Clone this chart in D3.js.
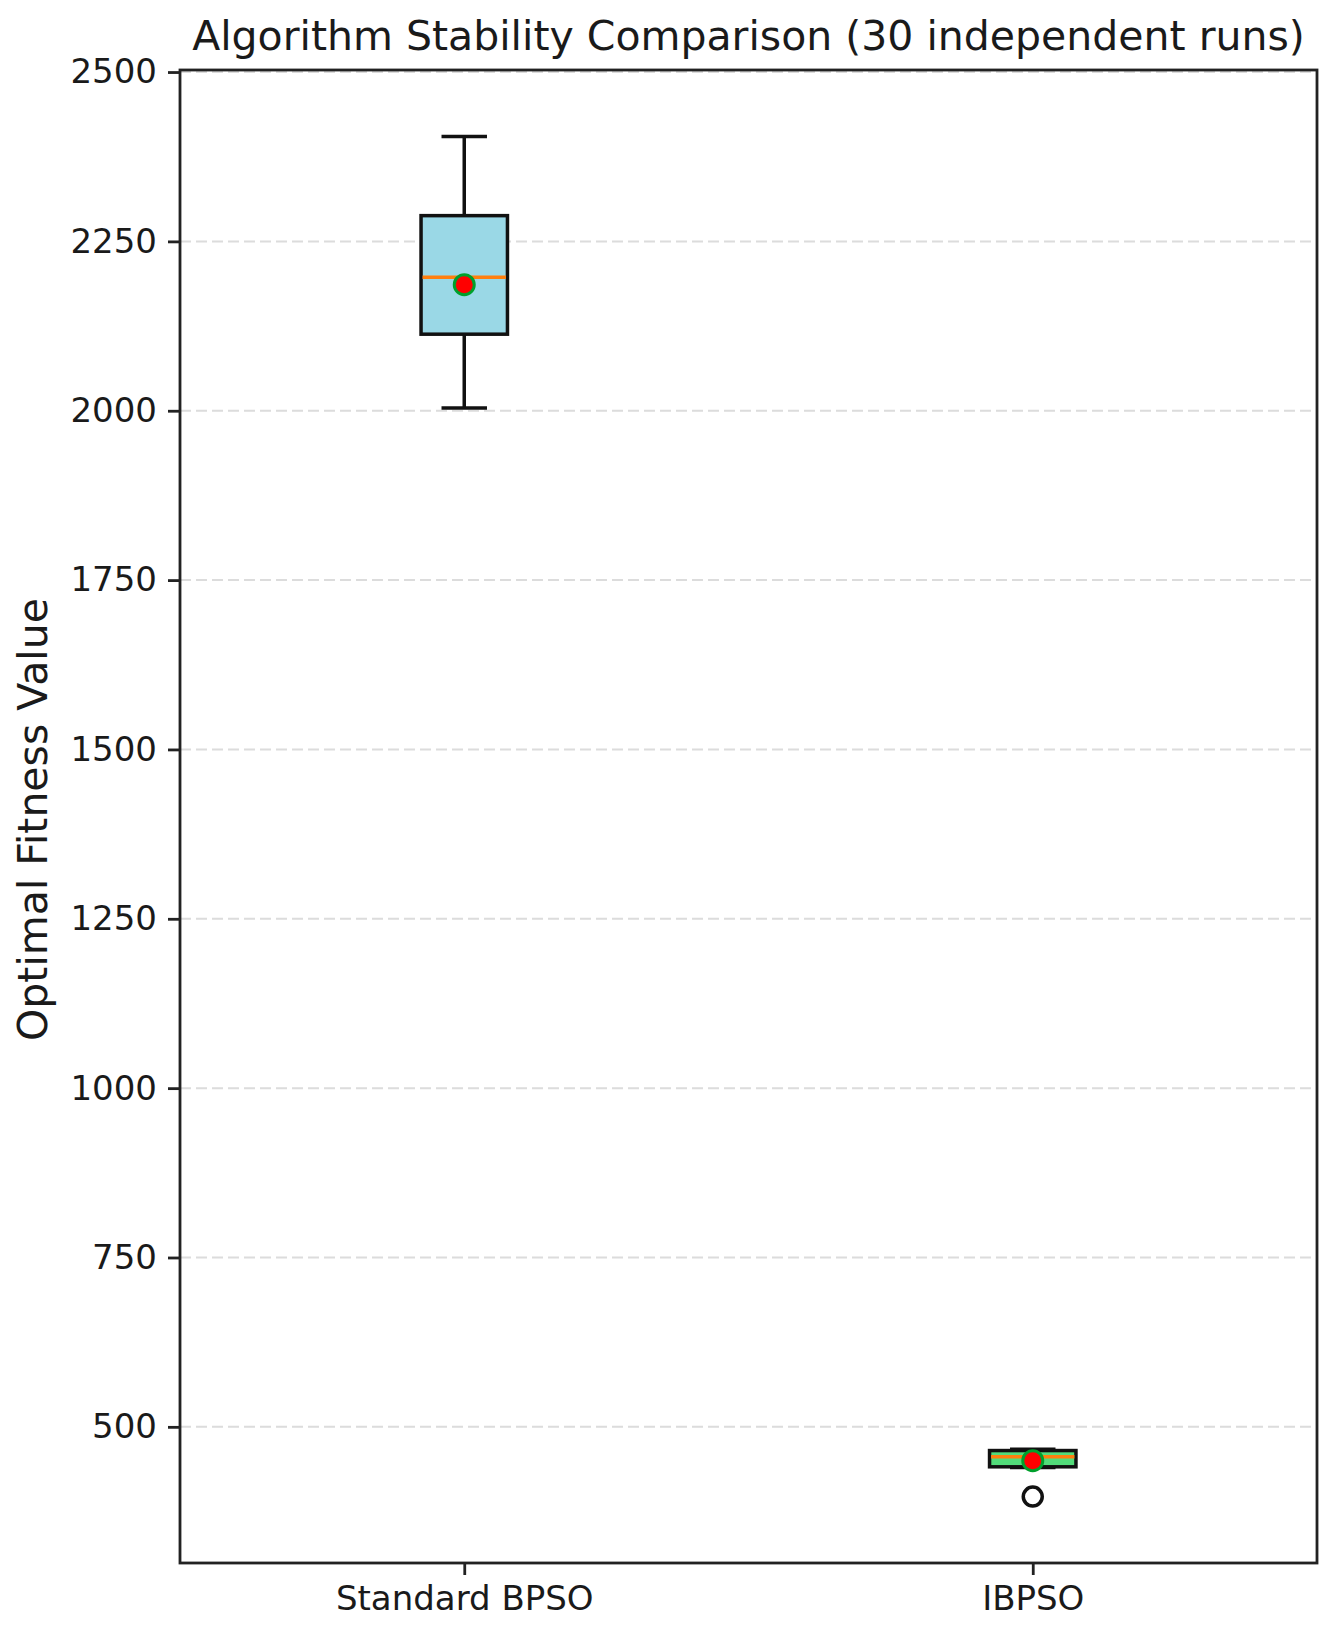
<!DOCTYPE html>
<html>
<head>
<meta charset="utf-8">
<script src="https://cdn.jsdelivr.net/npm/d3@7"></script>
<style>
  body { margin: 0; background: #fff; }
  text { font-family: "DejaVu Sans", sans-serif; fill: #1a1a1a; }
</style>
</head>
<body>
<div id="chart"></div>
<script>
// Box statistics (30 runs per algorithm)
const algorithms = ["Standard BPSO", "IBPSO"];
const whiskerLow = [2004, 440];
const q1 = [2113, 441];
const medians = [2197, 456];
const q3 = [2288, 465];
const whiskerHigh = [2405, 467];
const means = [2186, 450];
const outliers = [[], [397]];
const boxFills = ["#9ad8e6", "#52dc7a"];
const yTicks = [500, 750, 1000, 1250, 1500, 1750, 2000, 2250, 2500];

const W = 1333, H = 1630;
const margin = { top: 70, right: 16, bottom: 67, left: 180 };

const svg = d3.select("#chart").append("svg")
  .attr("width", W)
  .attr("height", H);

const x = d3.scaleLinear().domain([0.5, 2.5])
  .range([margin.left, W - margin.right]);
const y = d3.scaleLinear().domain([299, 2503])
  .range([H - margin.bottom, margin.top]);

// Grid
svg.append("g")
  .selectAll("line")
  .data(yTicks)
  .join("line")
  .attr("x1", x(0.5)).attr("x2", x(2.5))
  .attr("y1", d => y(d)).attr("y2", d => y(d))
  .attr("stroke", "#dcdcdc")
  .attr("stroke-width", 2)
  .attr("stroke-dasharray", "11,5");

const boxW = 0.152;
const capW = 0.08;

const g = svg.append("g");
algorithms.forEach((name, i) => {
  const cx = i + 1;
  const stroke = "#111";
  // whiskers
  g.append("line")
    .attr("x1", x(cx)).attr("x2", x(cx))
    .attr("y1", y(q3[i])).attr("y2", y(whiskerHigh[i]))
    .attr("stroke", stroke).attr("stroke-width", 3.5);
  g.append("line")
    .attr("x1", x(cx)).attr("x2", x(cx))
    .attr("y1", y(q1[i])).attr("y2", y(whiskerLow[i]))
    .attr("stroke", stroke).attr("stroke-width", 3.5);
  [whiskerHigh[i], whiskerLow[i]].forEach(v => {
    g.append("line")
      .attr("x1", x(cx - capW / 2)).attr("x2", x(cx + capW / 2))
      .attr("y1", y(v)).attr("y2", y(v))
      .attr("stroke", stroke).attr("stroke-width", 3.5);
  });
  // box
  g.append("rect")
    .attr("x", x(cx - boxW / 2))
    .attr("y", y(q3[i]))
    .attr("width", x(cx + boxW / 2) - x(cx - boxW / 2))
    .attr("height", y(q1[i]) - y(q3[i]))
    .attr("fill", boxFills[i])
    .attr("stroke", stroke).attr("stroke-width", 3.5);
  // median
  g.append("line")
    .attr("x1", x(cx - boxW / 2) + 1.5).attr("x2", x(cx + boxW / 2) - 1.5)
    .attr("y1", y(medians[i])).attr("y2", y(medians[i]))
    .attr("stroke", "#ff7f0e").attr("stroke-width", 3.5);
  // outliers
  g.selectAll(null)
    .data(outliers[i])
    .join("circle")
    .attr("cx", x(cx)).attr("cy", d => y(d))
    .attr("r", 9.5)
    .attr("fill", "none")
    .attr("stroke", stroke).attr("stroke-width", 3.5);
  // mean
  g.append("circle")
    .attr("cx", x(cx)).attr("cy", y(means[i]))
    .attr("r", 10)
    .attr("fill", "#ff0000")
    .attr("stroke", "#00a02c").attr("stroke-width", 3);
});

// Frame
svg.append("rect")
  .attr("x", margin.left).attr("y", margin.top)
  .attr("width", W - margin.right - margin.left)
  .attr("height", H - margin.bottom - margin.top)
  .attr("fill", "none")
  .attr("stroke", "#222").attr("stroke-width", 2.8);

// Axes
const yAxis = svg.append("g")
  .attr("transform", `translate(${margin.left},0)`)
  .call(d3.axisLeft(y).tickValues(yTicks).tickFormat(d3.format("d"))
    .tickSize(12).tickPadding(11));
yAxis.select(".domain").remove();
yAxis.selectAll("line").attr("stroke", "#222").attr("stroke-width", 2.8);
yAxis.selectAll("text").attr("font-size", 34).attr("fill", "#1a1a1a")
  .attr("font-family", "DejaVu Sans");

const xAxis = svg.append("g")
  .attr("transform", `translate(0,${H - margin.bottom})`)
  .call(d3.axisBottom(x).tickValues([1, 2]).tickFormat((d, i) => algorithms[i])
    .tickSize(12).tickPadding(11));
xAxis.select(".domain").remove();
xAxis.selectAll("line").attr("stroke", "#222").attr("stroke-width", 2.8);
xAxis.selectAll("text").attr("font-size", 34).attr("fill", "#1a1a1a")
  .attr("font-family", "DejaVu Sans");

// Title & label
svg.append("text")
  .attr("x", (margin.left + W - margin.right) / 2)
  .attr("y", 50)
  .attr("text-anchor", "middle")
  .attr("font-size", 41)
  .text("Algorithm Stability Comparison (30 independent runs)");

svg.append("text")
  .attr("transform", `translate(47,${(margin.top + H - margin.bottom) / 2 + 3}) rotate(-90)`)
  .attr("text-anchor", "middle")
  .attr("font-size", 41)
  .text("Optimal Fitness Value");
</script>
</body>
</html>
